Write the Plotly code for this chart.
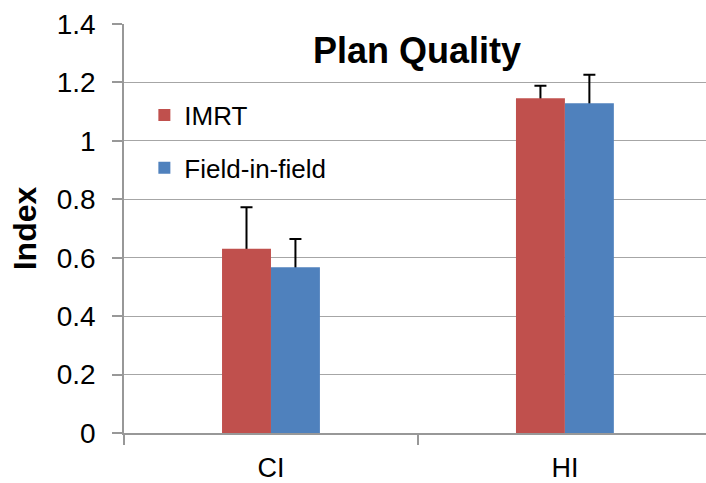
import plotly.graph_objects as go

categories = ["CI", "HI"]
imrt_values = [0.631, 1.146]
imrt_errors = [0.142, 0.043]
fif_values = [0.567, 1.129]
fif_errors = [0.097, 0.097]
series_names = ["IMRT", "Field-in-field"]
y_ticks = [0, 0.2, 0.4, 0.6, 0.8, 1.0, 1.2, 1.4]
y_tick_labels = ["0", "0.2", "0.4", "0.6", "0.8", "1", "1.2", "1.4"]

FONT = "Liberation Sans, Arial, sans-serif"
HIDE = 0.012  # lower error-bar cap tucked inside the bar (hidden by it)

fig = go.Figure()
# error bars first (transparent bars), so the real bars drawn later cover the lower cap
for vals, errs, grp in [(imrt_values, imrt_errors, "a"), (fif_values, fif_errors, "b")]:
    fig.add_trace(go.Bar(
        x=categories, y=vals, offsetgroup=grp, showlegend=False, hoverinfo="skip",
        marker=dict(color="rgba(0,0,0,0)", line=dict(width=0)),
        error_y=dict(type="data", array=errs, arrayminus=[HIDE] * len(errs),
                     symmetric=False, color="black", thickness=2, width=6),
    ))
fig.add_trace(go.Bar(
    x=categories, y=imrt_values, name=series_names[0], legendgroup="a", offsetgroup="a",
    marker=dict(color="#C0504D", line=dict(width=0)),
))
fig.add_trace(go.Bar(
    x=categories, y=fif_values, name=series_names[1], legendgroup="b", offsetgroup="b",
    marker=dict(color="#4F81BD", line=dict(width=0)),
))

fig.update_layout(
    width=706, height=483,
    margin=dict(l=124, r=0, t=24, b=50),
    paper_bgcolor="white", plot_bgcolor="white",
    barmode="group", bargap=0.667, bargroupgap=0,
    font=dict(family=FONT, color="black", size=26),
    title=dict(text="<b>Plan Quality</b>", x=417/706, xanchor="center",
               y=1-50/483, yanchor="middle", yref="container", xref="container",
               font=dict(size=36, family=FONT, color="black"), automargin=False),
    showlegend=True,
    legend=dict(x=0.035, y=0.835, xanchor="left", yanchor="top",
                bgcolor="rgba(0,0,0,0)", borderwidth=0,
                font=dict(size=26, family=FONT), traceorder="grouped",
                tracegroupgap=16),
    xaxis=dict(range=[-0.5, 1.48], showline=True, linecolor="#989898", linewidth=1.5,
               ticks="outside", tickson="boundaries", ticklen=10, tickcolor="#989898",
               tickwidth=1.5, showgrid=False, tickfont=dict(size=27),
               ticklabelstandoff=10, automargin=False, fixedrange=True),
    yaxis=dict(range=[0, 1.4], tickvals=y_ticks, ticktext=y_tick_labels,
               showline=True, linecolor="#989898", linewidth=1.5,
               ticks="outside", ticklen=10, tickcolor="#989898", tickwidth=1.5,
               showgrid=True, gridcolor="#a6a6a6", gridwidth=1.2, zeroline=False,
               tickfont=dict(size=28), ticklabelstandoff=11, automargin=False,
               fixedrange=True,
               title=dict(text="<b>Index</b>", font=dict(size=32), standoff=11)),
)

fig.write_html("out.html", config={"displayModeBar": False},
               post_script="document.body.style.margin='0';document.body.style.padding='0';")
